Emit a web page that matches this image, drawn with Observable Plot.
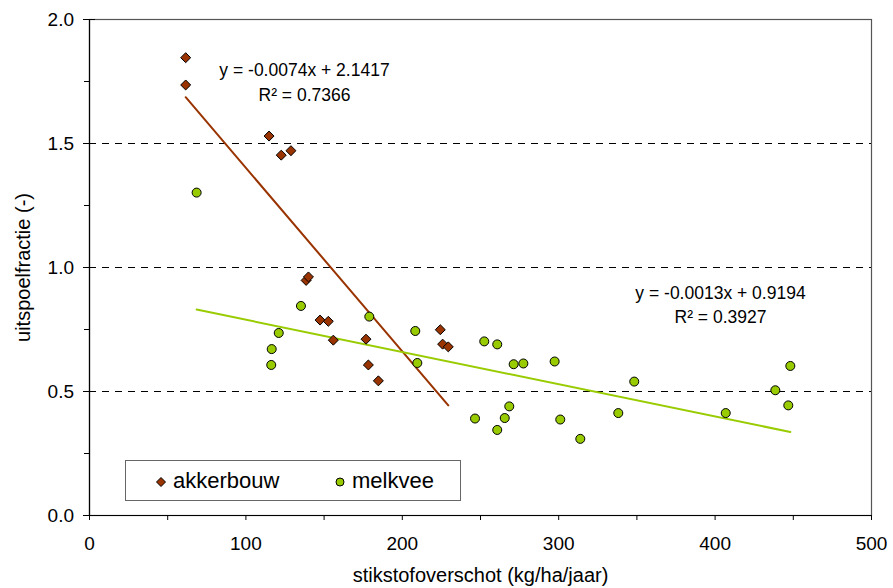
<!DOCTYPE html>
<html><head><meta charset="utf-8">
<script src="https://cdn.jsdelivr.net/npm/d3@7"></script>
<script src="https://cdn.jsdelivr.net/npm/@observablehq/plot@0.6"></script>
<style>
body{margin:0;background:#fff;}
#wrap{position:relative;width:893px;height:588px;font-family:"Liberation Sans",Arial,sans-serif;}
#legend{position:absolute;left:125px;top:460px;width:336px;height:41px;border:1px solid #666;box-sizing:border-box;background:#fff;font-size:22px;}
#legend .item{position:absolute;top:0;height:39px;line-height:39px;white-space:nowrap;}
#legend svg{vertical-align:middle;}
</style>
</head><body>
<div id="wrap"><div id="chart"></div><div id="legend"></div></div>
<script>
// ---- data ----
const akkerbouwX = [61.5, 61.5, 114.8, 122.6, 128.8, 138.5, 140.0, 147.4, 152.7, 155.9, 176.8, 178.3, 184.7, 224.3, 225.8, 229.4];
const akkerbouwY = [1.846, 1.736, 1.530, 1.453, 1.471, 0.948, 0.962, 0.788, 0.783, 0.707, 0.711, 0.607, 0.543, 0.749, 0.691, 0.680];
const melkveeX = [68.5, 135.2, 178.9, 121.0, 116.5, 116.2, 208.3, 209.6, 252.4, 260.7, 271.2, 277.4, 297.4, 348.3, 438.5, 448.1, 446.8, 406.8, 338.1, 313.8, 301.0, 268.4, 265.5, 260.7, 246.5];
const melkveeY = [1.302, 0.845, 0.802, 0.736, 0.671, 0.607, 0.744, 0.615, 0.702, 0.690, 0.610, 0.613, 0.621, 0.540, 0.505, 0.603, 0.444, 0.413, 0.413, 0.309, 0.387, 0.440, 0.393, 0.345, 0.391];
const akkerbouwSlope = -0.0074, akkerbouwIntercept = 2.1417, akkerbouwR2 = 0.7366;
const melkveeSlope = -0.0013, melkveeIntercept = 0.9194, melkveeR2 = 0.3927;
const seriesNames = ["akkerbouw", "melkvee"];
const xTicks = [0, 100, 200, 300, 400, 500];
const xMinorTicks = [50, 150, 250, 350, 450];
const yTicks = [0, 0.5, 1.0, 1.5, 2.0];
const yMinorTicks = [0.25, 0.75, 1.25, 1.75];
const gridY = [0.5, 1.0, 1.5];
const xLabel = "stikstofoverschot (kg/ha/jaar)";
const yLabel = "uitspoelfractie (-)";

// ---- build ----
const brown = "#993300", lime = "#99CC00";
const akk = akkerbouwX.map((x, i) => ({x, y: akkerbouwY[i]}));
const mel = melkveeX.map((x, i) => ({x, y: melkveeY[i]}));
const trend = (xs, a, b) => d3.extent(xs).map(x => ({x, y: a * x + b}));
const eq = (a, b) => `y = ${a.toFixed(4)}x + ${b.toFixed(4)}`;
const r2 = v => `R² = ${v.toFixed(4)}`;
const font = "'Liberation Sans', Arial, sans-serif";
const blank = () => "";

const chart = Plot.plot({
  width: 893, height: 588,
  marginLeft: 89, marginRight: 22, marginTop: 19, marginBottom: 73,
  x: {domain: [0, 500]},
  y: {domain: [0, 2]},
  style: {fontFamily: font, fontSize: "19px", color: "black", background: "white", overflow: "visible"},
  marks: [
    Plot.ruleY(gridY, {stroke: "black", strokeDasharray: "7,6", strokeWidth: 1}),
    Plot.frame({stroke: "#555", strokeWidth: 1.2}),
    Plot.axisX({ticks: xTicks, tickSize: 5, tickPadding: 16, tickFormat: d => String(d), label: null}),
    Plot.axisX({ticks: xMinorTicks, tickSize: 5, tickFormat: blank, label: null}),
    Plot.axisY({ticks: yTicks, tickSize: 6, tickPadding: 9.5, tickFormat: d3.format(".1f"), label: null}),
    Plot.axisY({ticks: yTicks, tickSize: -6, tickFormat: blank, label: null}),
    Plot.axisY({ticks: yMinorTicks, tickSize: 5, tickFormat: blank, label: null}),
    Plot.ruleX([0], {stroke: "black", strokeWidth: 1.2}),
    Plot.ruleY([0], {stroke: "black", strokeWidth: 1.2}),
    Plot.line(trend(akkerbouwX, akkerbouwSlope, akkerbouwIntercept), {x: "x", y: "y", stroke: brown, strokeWidth: 2}),
    Plot.line(trend(melkveeX, melkveeSlope, melkveeIntercept), {x: "x", y: "y", stroke: lime, strokeWidth: 2}),
    Plot.dot(akk, {x: "x", y: "y", symbol: "diamond2", r: 4.5, fill: brown, stroke: "black", strokeWidth: 1}),
    Plot.dot(mel, {x: "x", y: "y", symbol: "circle", r: 4.5, fill: lime, stroke: "black", strokeWidth: 1}),
    Plot.text([eq(akkerbouwSlope, akkerbouwIntercept)], {frameAnchor: "top-left", dx: 215, dy: 51, textAnchor: "middle", lineAnchor: "middle", fontSize: 17.5}),
    Plot.text([r2(akkerbouwR2)], {frameAnchor: "top-left", dx: 215, dy: 76, textAnchor: "middle", lineAnchor: "middle", fontSize: 17.5}),
    Plot.text([eq(melkveeSlope, melkveeIntercept)], {frameAnchor: "top-left", dx: 631, dy: 274, textAnchor: "middle", lineAnchor: "middle", fontSize: 17.5}),
    Plot.text([r2(melkveeR2)], {frameAnchor: "top-left", dx: 631, dy: 298, textAnchor: "middle", lineAnchor: "middle", fontSize: 17.5}),
    Plot.text([xLabel], {frameAnchor: "bottom", dy: 60, textAnchor: "middle", lineAnchor: "middle", fontSize: 20}),
    Plot.text([yLabel], {frameAnchor: "left", dx: -66, rotate: -90, textAnchor: "middle", lineAnchor: "middle", fontSize: 20})
  ]
});
document.getElementById("chart").appendChild(chart);

// legend (HTML overlay inside the plot area)
const legend = document.getElementById("legend");
const items = [
  {name: seriesNames[0], left: 29, textLeft: 47, svg: `<svg width="12" height="12" viewBox="-6 -6 12 12"><path d="M0,-4.5L4.5,0L0,4.5L-4.5,0Z" fill="${brown}" stroke="black" stroke-width="1"/></svg>`},
  {name: seriesNames[1], left: 208, textLeft: 226, svg: `<svg width="12" height="12" viewBox="-6 -6 12 12"><circle r="4" fill="${lime}" stroke="black" stroke-width="1"/></svg>`}
];
for (const it of items) {
  const s = document.createElement("div");
  s.className = "item"; s.style.left = it.left + "px"; s.innerHTML = it.svg;
  legend.appendChild(s);
  const t = document.createElement("div");
  t.className = "item"; t.style.left = it.textLeft + "px"; t.textContent = it.name;
  legend.appendChild(t);
}
</script>
</body></html>
